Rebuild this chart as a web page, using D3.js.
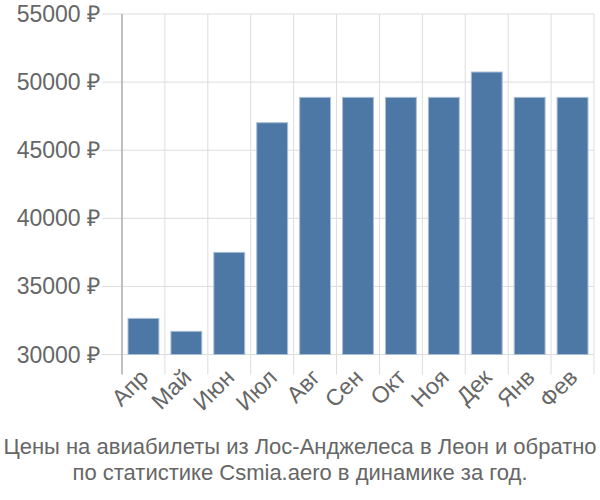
<!DOCTYPE html>
<html>
<head>
<meta charset="utf-8">
<script src="https://cdn.jsdelivr.net/npm/d3@7"></script>
<style>
  body { margin: 0; background: #fff; }
  text { font-family: "Liberation Sans", Arial, sans-serif; fill: #666; }
</style>
</head>
<body>
<svg id="chart" width="600" height="500"></svg>
<script>
var months = ["Апр", "Май", "Июн", "Июл", "Авг", "Сен", "Окт", "Ноя", "Дек", "Янв", "Фев"];
var prices = [32650, 31700, 37500, 47020, 48880, 48880, 48880, 48880, 50740, 48880, 48880];
var yTicks = [30000, 35000, 40000, 45000, 50000, 55000];
var titleLines = ["Цены на авиабилеты из Лос-Анджелеса в Леон и обратно",
                  "по статистике Csmia.aero в динамике за год."];

var svg = d3.select("#chart");
var plotLeft = 122, plotRight = 594, plotTop = 14, plotBottom = 354.5;

var x = d3.scaleBand().domain(months).range([plotLeft, plotRight])
  .paddingInner(0.28).paddingOuter(0.14);
var y = d3.scaleLinear().domain([30000, 55000]).range([plotBottom, plotTop]);

// horizontal grid + y tick marks
svg.append("g").selectAll("line").data(yTicks).enter().append("line")
  .attr("x1", plotLeft - 20).attr("x2", plotRight)
  .attr("y1", function(d) { return y(d); }).attr("y2", function(d) { return y(d); })
  .attr("stroke", "#ddd").attr("stroke-width", 1);

// vertical grid at band boundaries
var step = x.step();
var bounds = d3.range(months.length + 1).map(function(i) { return plotLeft + i * step; });
svg.append("g").selectAll("line").data(bounds.slice(1)).enter().append("line")
  .attr("x1", function(d) { return d; }).attr("x2", function(d) { return d; })
  .attr("y1", plotTop).attr("y2", plotBottom + 20)
  .attr("stroke", "#ddd").attr("stroke-width", 1);

// y axis line
svg.append("line").attr("x1", plotLeft).attr("x2", plotLeft)
  .attr("y1", plotTop).attr("y2", plotBottom + 20)
  .attr("stroke", "#aaa").attr("stroke-width", 1.5);

// y labels
svg.append("g").selectAll("text").data(yTicks).enter().append("text")
  .attr("x", plotLeft - 22).attr("y", function(d) { return y(d); })
  .attr("dy", "0.35em").attr("text-anchor", "end")
  .style("font-size", "23px")
  .text(function(d) { return d + " ₽"; });

// bars
svg.append("g").selectAll("rect").data(prices).enter().append("rect")
  .attr("x", function(d, i) { return x(months[i]); })
  .attr("width", x.bandwidth())
  .attr("y", function(d) { return y(d); })
  .attr("height", function(d) { return plotBottom - y(d); })
  .attr("fill", "#4d78a6")
  .attr("stroke", "#a9bfd6").attr("stroke-width", 1);

// x labels
svg.append("g").selectAll("text").data(months).enter().append("text")
  .attr("transform", function(d) {
    return "translate(" + (x(d) + x.bandwidth() / 2 - 5) + "," + (plotBottom + 13) + ") rotate(-45)";
  })
  .attr("text-anchor", "end").attr("dy", "0.7em")
  .style("font-size", "23px")
  .text(function(d) { return d; });

// title
svg.append("g").selectAll("text").data(titleLines).enter().append("text")
  .attr("x", 300).attr("y", function(d, i) { return 454 + i * 26; })
  .attr("text-anchor", "middle")
  .style("font-size", "22px")
  .text(function(d) { return d; });
</script>
</body>
</html>
